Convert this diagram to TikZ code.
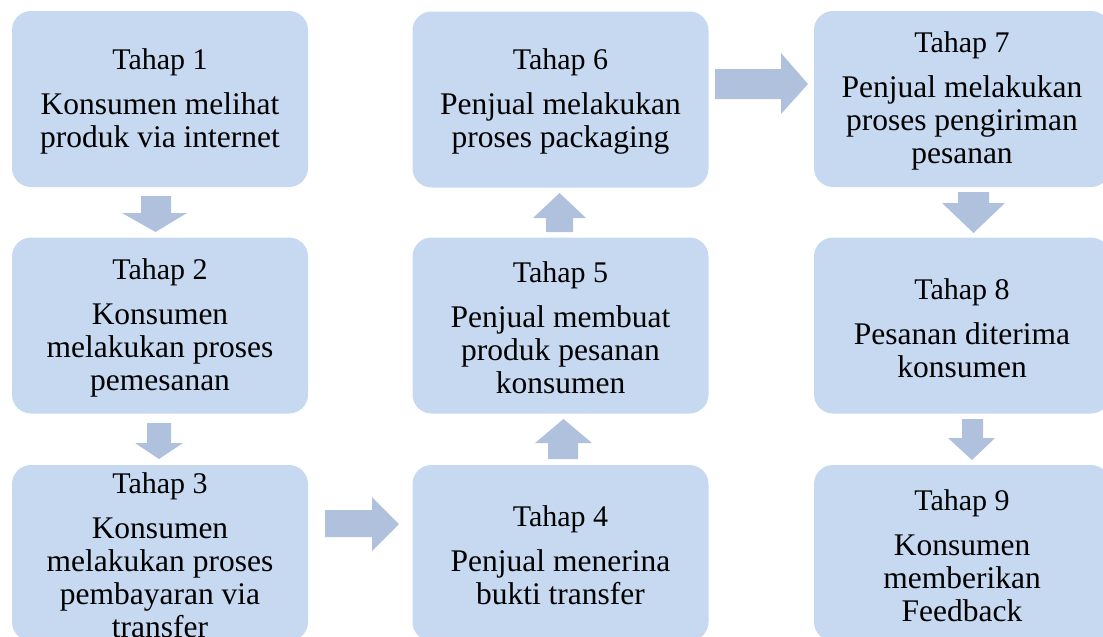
\documentclass[tikz,border=0pt]{standalone}
\usepackage{fontspec}
\setmainfont{Liberation Serif}
\definecolor{boxfill}{RGB}{198,217,240}
\definecolor{arrfill}{RGB}{176,193,222}
\tikzset{
  stepbox/.style={fill=boxfill, draw=none, rounded corners=19pt, minimum width=296pt,
    minimum height=176pt, inner sep=0pt, align=center,
    font=\fontsize{31.5}{33}\selectfont},
  blockarr/.style={fill=arrfill, draw=none}
}
\newcommand{\tahap}[1]{{\fontsize{30}{33}\selectfont\rule{0pt}{25.5pt}Tahap #1}\\[12pt]}
\begin{document}
\begin{tikzpicture}[x=1pt,y=-1pt]
\useasboundingbox (0,0) rectangle (1103,637);
\clip (0,0) rectangle (1103,637);
\node[stepbox] (b1) at (160,99) {\tahap{1}Konsumen melihat\\produk via internet};
\node[stepbox] (b2) at (160,325.5) {\tahap{2}Konsumen\\melakukan proses\\pemesanan};
\node[stepbox] (b3) at (160,553) {\tahap{3}Konsumen\\melakukan proses\\pembayaran via\\transfer};
\node[stepbox] (b4) at (560.5,553) {\tahap{4}Penjual menerina\\bukti transfer};
\node[stepbox] (b5) at (560.5,325.5) {\tahap{5}Penjual membuat\\produk pesanan\\konsumen};
\node[stepbox] (b6) at (560.5,99.5) {\tahap{6}Penjual melakukan\\proses packaging};
\node[stepbox] (b7) at (962,99) {\tahap{7}Penjual melakukan\\proses pengiriman\\pesanan};
\node[stepbox] (b8) at (962,325.5) {\tahap{8}Pesanan diterima\\konsumen};
\node[stepbox] (b9) at (962,553) {\tahap{9}Konsumen\\memberikan\\Feedback};
% block arrows
\fill[blockarr] (141,196) -- (171,196) -- (171,213) -- (187,213) -- (155.5,232) -- (122,213) -- (141,213) -- cycle;
\fill[blockarr] (147,423) -- (171,423) -- (171,443) -- (183,443) -- (159,459) -- (135,443) -- (147,443) -- cycle;
\fill[blockarr] (325,510) -- (372,510) -- (372,497) -- (399,524) -- (372,551) -- (372,537) -- (325,537) -- cycle;
\fill[blockarr] (548,459) -- (578,459) -- (578,443) -- (592,443) -- (563.5,419) -- (535,443) -- (548,443) -- cycle;
\fill[blockarr] (546,232) -- (573,232) -- (573,218) -- (586,218) -- (559.5,193) -- (533,218) -- (546,218) -- cycle;
\fill[blockarr] (715,69) -- (781,69) -- (781,53) -- (808,84) -- (781,114) -- (781,99) -- (715,99) -- cycle;
\fill[blockarr] (958,192) -- (989,192) -- (989,203) -- (1005,203) -- (973.5,233) -- (942,203) -- (958,203) -- cycle;
\fill[blockarr] (962,419) -- (983,419) -- (983,438) -- (995,438) -- (972,460) -- (948,438) -- (962,438) -- cycle;
\end{tikzpicture}
\end{document}
